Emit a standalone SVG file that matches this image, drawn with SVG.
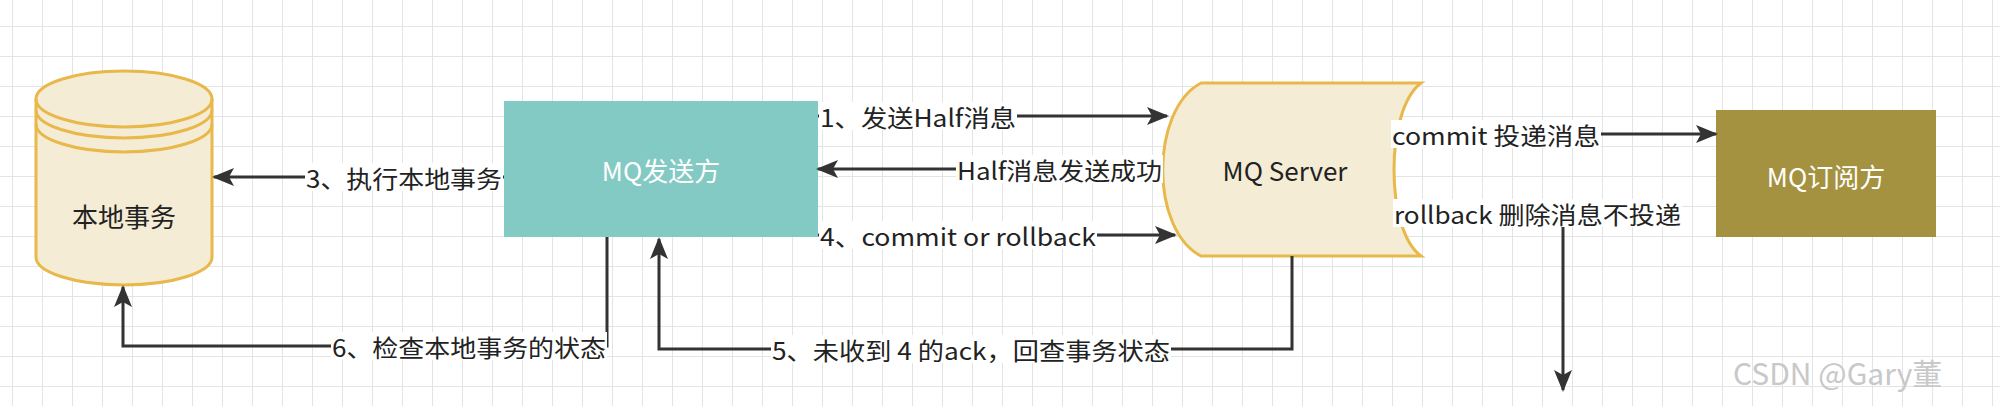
<svg xmlns="http://www.w3.org/2000/svg" width="2000" height="406" viewBox="0 0 2000 406">
<defs>
<pattern id="grid" x="12" y="26" width="30" height="30" patternUnits="userSpaceOnUse">
<path d="M0,0 H30 M0,0 V30" fill="none" stroke="#e4e4e4" stroke-width="2"/>
</pattern>
<marker id="arr" markerWidth="22" markerHeight="18" refX="20" refY="9" orient="auto" markerUnits="userSpaceOnUse">
<path d="M0,0 L22,9 L0,18 L5,9 Z" fill="#333"/>
</marker>
</defs>
<style>
.t{font-family:"Noto Sans CJK SC","Liberation Sans",sans-serif;font-size:24px;fill:#222;dominant-baseline:central}
.n{font-size:26px}
.w{fill:#fff}
.e{fill:none;stroke:#333;stroke-width:3;marker-end:url(#arr)}
.bg{fill:#fff}
</style>
<rect width="2000" height="406" fill="#fff"/>
<rect width="2000" height="406" fill="url(#grid)"/>

<g id="node-local">
<path d="M36,99 A88,28 0 0 1 212,99 V257 A88,28 0 0 1 36,257 Z" fill="#f5ecd5" stroke="#e8b84a" stroke-width="3"/>
<path d="M36,99 A88,28 0 0 0 212,99 M36,110 A88,28 0 0 0 212,110 M36,124 A88,28 0 0 0 212,124" fill="none" stroke="#e8b84a" stroke-width="3"/>
<text class="t n" x="124" y="215" text-anchor="middle">本地事务</text>
</g>
<g id="node-sender">
<rect x="504" y="101" width="314" height="136" fill="#84cac4"/>
<text class="t n w" x="661" y="169" text-anchor="middle">MQ发送方</text>
</g>
<g id="node-server">
<path d="M1201,83 L1421,83 C1385,110 1385,230 1421,256 L1201,256 C1150,230 1150,110 1201,83 Z" fill="#f5ecd5" stroke="#e8b84a" stroke-width="3"/>
<text class="t n" x="1285" y="169" text-anchor="middle">MQ Server</text>
</g>
<g id="node-sub">
<rect x="1716" y="110" width="220" height="127" fill="#a49240"/>
<text class="t n w" x="1826" y="175" text-anchor="middle">MQ订阅方</text>
</g>

<g id="connectors">
<path class="e" d="M504,177 L214,177"/>
<path class="e" d="M818,116 L1167,116"/>
<path class="e" d="M1163,169 L818,169"/>
<path class="e" d="M818,235 L1175,235"/>
<path class="e" d="M1392,134 L1716,134"/>
<path class="e" d="M1395,213 L1563,213 L1563,390"/>
<path class="e" d="M607,237 L607,346 L123,346 L123,287"/>
<path class="e" d="M1292,256 L1292,349 L659,349 L659,239"/>
<rect class="bg" x="305" y="163" width="198" height="28"/>
<text class="t" x="306" y="177" textLength="196" lengthAdjust="spacingAndGlyphs">3、执行本地事务</text>
<rect class="bg" x="819" y="102" width="198" height="28"/>
<text class="t" x="820" y="116" textLength="196" lengthAdjust="spacingAndGlyphs">1、发送Half消息</text>
<rect class="bg" x="956" y="155" width="207" height="28"/>
<text class="t" x="957" y="169" textLength="205" lengthAdjust="spacingAndGlyphs">Half消息发送成功</text>
<rect class="bg" x="819" y="221" width="278" height="28"/>
<text class="t" x="820" y="235" textLength="276" lengthAdjust="spacingAndGlyphs">4、commit or rollback</text>
<rect class="bg" x="1391" y="120" width="210" height="28"/>
<text class="t" x="1392" y="134" textLength="208" lengthAdjust="spacingAndGlyphs">commit 投递消息</text>
<rect class="bg" x="1393" y="199" width="289" height="28"/>
<text class="t" x="1394" y="213" textLength="287" lengthAdjust="spacingAndGlyphs">rollback 删除消息不投递</text>
<rect class="bg" x="331" y="332" width="276" height="28"/>
<text class="t" x="332" y="346" textLength="274" lengthAdjust="spacingAndGlyphs">6、检查本地事务的状态</text>
<rect class="bg" x="771" y="335" width="400" height="28"/>
<text class="t" x="772" y="349" textLength="398" lengthAdjust="spacingAndGlyphs">5、未收到 4 的ack，回查事务状态</text>
</g>
<text x="1733" y="372" font-family="'Noto Sans CJK SC','Liberation Sans',sans-serif" font-size="30" fill="#c8c8c8" dominant-baseline="central">CSDN @Gary董</text>
</svg>
